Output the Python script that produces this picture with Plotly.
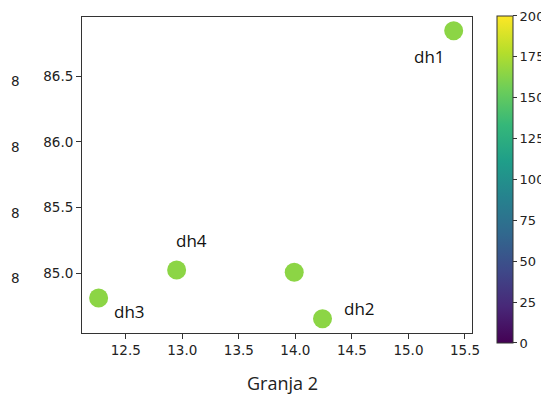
import plotly.graph_objects as go

# data
x_vals = [15.40, 14.24, 12.26, 12.95, 13.99]
y_vals = [86.845, 84.655, 84.812, 85.025, 85.008]
color_vals = [165, 165, 165, 165, 165]

label_names = ["dh1", "dh2", "dh3", "dh4"]
label_x = [15.19, 14.57, 12.53, 13.085]
label_y = [86.647, 84.729, 84.708, 85.246]

x_ticks = [12.5, 13.0, 13.5, 14.0, 14.5, 15.0, 15.5]
y_ticks = [85.0, 85.5, 86.0, 86.5]
cbar_ticks = [0, 25, 50, 75, 100, 125, 150, 175, 200]

fig = go.Figure()
fig.add_trace(go.Scatter(
    x=x_vals, y=y_vals, mode="markers",
    marker=dict(
        size=19, color=color_vals, colorscale="Viridis", cmin=0, cmax=200,
        line=dict(width=0),
        showscale=True,
        colorbar=dict(
            x=1.063, xanchor="left", xref="paper", xpad=0, ypad=0,
            y=0.4858, yanchor="middle",
            lenmode="pixels", len=327,
            thicknessmode="pixels", thickness=16,
            outlinecolor="#333333", outlinewidth=1,
            tickvals=cbar_ticks, ticks="outside", ticklen=4, tickcolor="#333333",
            tickfont=dict(family="DejaVu Sans", size=13, color="#222222"),
        ),
    ),
    hoverinfo="skip", showlegend=False,
))

annotations = []
for name, lx, ly in zip(label_names, label_x, label_y):
    annotations.append(dict(
        x=lx, y=ly, xref="x", yref="y", text=name, showarrow=False,
        font=dict(family="Open Sans", size=17, color="#111111"),
        xanchor="center", yanchor="middle",
    ))
for yt in y_ticks:
    annotations.append(dict(
        x=-0.17, y=yt, xref="paper", yref="y", text="8", showarrow=False,
        font=dict(family="DejaVu Sans", size=13.5, color="#222222"),
        xanchor="center", yanchor="middle", yshift=-5,
    ))
annotations.append(dict(
    x=0.514, y=-0.158, xref="paper", yref="paper", text="Granja 2", showarrow=False,
    font=dict(family="Open Sans", size=18, color="#222222"),
    xanchor="center", yanchor="middle",
))

axis_common = dict(
    showgrid=False, zeroline=False, showline=True, linecolor="#333333", linewidth=1,
    mirror=True, ticks="outside", ticklen=5, tickcolor="#333333",
    tickfont=dict(family="DejaVu Sans", size=13.5, color="#222222"),
)

fig.update_layout(
    width=541, height=389,
    margin=dict(l=74, r=77, t=9, b=64, autoexpand=False),
    plot_bgcolor="white", paper_bgcolor="white",
    xaxis=dict(range=[12.113, 15.562], tickvals=x_ticks,
               ticktext=[f"{v:.1f}" for v in x_ticks], **axis_common),
    yaxis=dict(range=[84.546, 86.949], tickvals=y_ticks,
               ticktext=[f"{v:.1f}" for v in y_ticks], **axis_common),
    annotations=annotations,
)

fig.write_html("out.html")
